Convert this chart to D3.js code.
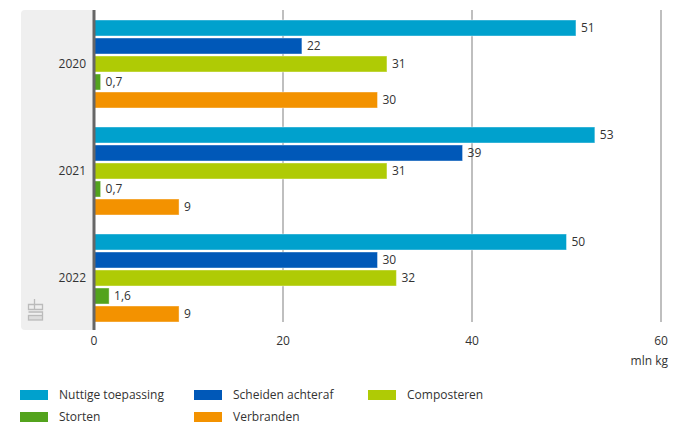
<!DOCTYPE html>
<html>
<head>
<meta charset="utf-8">
<title>Verwerking</title>
<script src="https://d3js.org/d3.v7.min.js"></script>
<style>
  body { margin: 0; background: #fff; }
  svg text { font-family: "Open Sans", "Noto Sans", sans-serif; font-size: 12px; fill: #333; }
</style>
</head>
<body>
<div id="chart"></div>
<script>
// data
const years = ["2020", "2021", "2022"];
const series = ["Nuttige toepassing", "Scheiden achteraf", "Composteren", "Storten", "Verbranden"];
const colors = ["#00a1cd", "#0058b8", "#afcb05", "#53a31d", "#f39200"];
const values = [
  [51, 22, 31, 0.7, 30],
  [53, 39, 31, 0.7, 9],
  [50, 30, 32, 1.6, 9]
];
const ticks = [0, 20, 40, 60];

const W = 674, H = 425;
const svg = d3.select("#chart").append("svg")
  .attr("width", W).attr("height", H);

const x = d3.scaleLinear().domain([0, 60]).range([94, 661]);
const y0 = d3.scaleBand().domain(years).range([10, 331]).paddingInner(0).paddingOuter(0);
const y1 = d3.scaleBand().domain(series).range([10, 98]).paddingInner(0.111);

// grey panel behind year labels
svg.append("rect")
  .attr("x", 21).attr("y", 10).attr("width", 74).attr("height", 320)
  .attr("rx", 4).attr("fill", "#efefef");

// grid
svg.selectAll("line.grid")
  .data(ticks.slice(1))
  .enter().append("line")
  .attr("class", "grid")
  .attr("x1", d => x(d)).attr("x2", d => x(d))
  .attr("y1", 10).attr("y2", 322)
  .attr("stroke", "#aaa").attr("stroke-width", 1.5);

// bars
const groups = svg.selectAll("g.year")
  .data(years)
  .enter().append("g")
  .attr("class", "year")
  .attr("transform", d => "translate(0," + y0(d) + ")");

groups.selectAll("rect")
  .data((d, i) => values[i].map((v, j) => ({ v: v, s: series[j], c: colors[j] })))
  .enter().append("rect")
  .attr("x", x(0))
  .attr("y", d => y1(d.s))
  .attr("width", d => x(d.v) - x(0))
  .attr("height", y1.bandwidth())
  .attr("fill", d => d.c)
  .attr("stroke", "#fff").attr("stroke-opacity", 0.4).attr("stroke-width", 1);

groups.selectAll("text.val")
  .data((d, i) => values[i].map((v, j) => ({ v: v, s: series[j] })))
  .enter().append("text")
  .attr("class", "val")
  .attr("x", d => x(d.v) + 5)
  .attr("y", d => y1(d.s) + y1.bandwidth() / 2)
  .attr("dy", "0.35em")
  .text(d => String(d.v).replace(".", ","));

// year labels
groups.append("text")
  .attr("x", 86)
  .attr("y", y1("Composteren") + y1.bandwidth() / 2)
  .attr("dy", "0.35em")
  .attr("text-anchor", "end")
  .text(d => d);

// zero axis
svg.append("line")
  .attr("x1", x(0)).attr("x2", x(0))
  .attr("y1", 10).attr("y2", 330)
  .attr("stroke", "#666").attr("stroke-width", 3);

// x tick labels
svg.selectAll("text.tick")
  .data(ticks)
  .enter().append("text")
  .attr("class", "tick")
  .attr("x", d => x(d)).attr("y", 345)
  .attr("text-anchor", "middle")
  .text(d => d);

svg.append("text")
  .attr("x", 668).attr("y", 365)
  .attr("text-anchor", "end")
  .text("mln kg");

// small logo mark
const logo = svg.append("g").attr("fill", "none").attr("stroke", "#bbb").attr("stroke-width", 1.3);
logo.append("path").attr("d", "M34.5,299 v5 M28.5,304.5 h14 v5 h-14 z M34.5,304.5 v5");
logo.append("path").attr("d", "M28.5,312 h14 v3");
logo.append("rect").attr("x", 28.5).attr("y", 315.5).attr("width", 14).attr("height", 4.5).attr("fill", "#ddd");

// legend
const legend = svg.selectAll("g.leg")
  .data(series)
  .enter().append("g")
  .attr("class", "leg")
  .attr("transform", (d, i) => "translate(" + (20 + (i % 3) * 174) + "," + (i < 3 ? 395 : 417) + ")");

legend.append("rect")
  .attr("x", 0).attr("y", -5).attr("width", 28).attr("height", 10)
  .attr("fill", (d, i) => colors[i]);

legend.append("text")
  .attr("x", 39).attr("dy", "0.35em")
  .text(d => d);
</script>
</body>
</html>
